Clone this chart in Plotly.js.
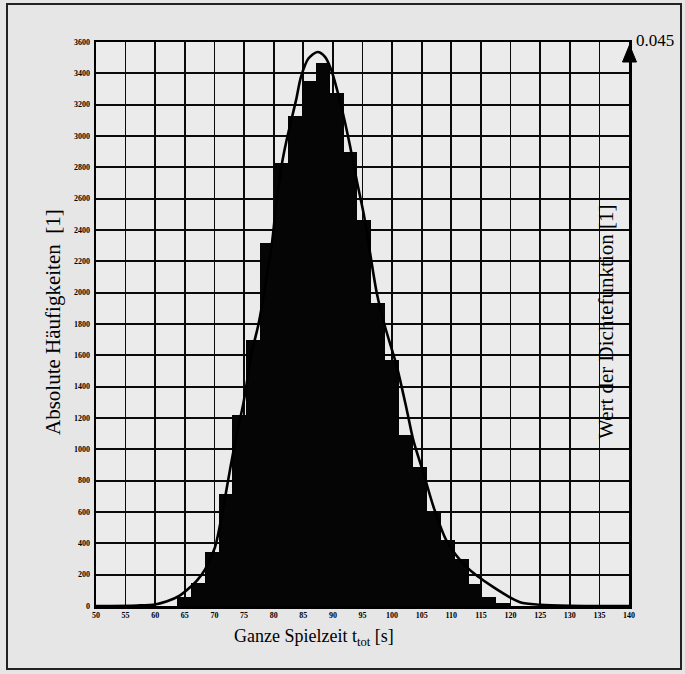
<!DOCTYPE html>
<html><head><meta charset="utf-8">
<script src="https://cdn.plot.ly/plotly-3.0.1.min.js"></script>
<style>html,body{margin:0;padding:0;background:#e6e6e6}#chart{width:685px;height:674px}</style>
</head><body><div id="chart"></div>
<script>
// Histogram bins (centres, s) and absolute counts
const binCenters = [64.83, 67.17, 69.52, 71.86, 74.21, 76.55, 78.90, 81.24, 83.59, 85.93, 88.28, 90.62, 92.97, 95.31, 97.66, 100.00, 102.35, 104.69, 107.04, 109.38, 111.73, 114.07, 116.42, 118.76];
const binCounts  = [60, 144, 344, 713, 1222, 1697, 2317, 2828, 3130, 3348, 3469, 3274, 2900, 2464, 1932, 1570, 1090, 888, 600, 420, 302, 140, 60, 20];
// Density curve (right axis)
const curveX = [50, 57, 60, 62, 64.2, 65.9, 67.0, 68.4, 70.1, 71.5, 72.6, 73.8, 74.9, 76.3, 77.4, 78.0, 78.9, 79.7, 80.4, 81.4, 82.2, 83.8, 84.6, 85.9, 87.4, 88.7, 89.7, 90.7, 91.8, 92.9, 94.0, 95.2, 96.3, 97.4, 98.8, 100.8, 102.5, 103.6, 105.3, 107.0, 109.2, 112.6, 117.1, 121.6, 125, 130, 140];
const curveDensity = [0, 0.00004, 0.000125, 0.000375, 0.00085, 0.0015, 0.002, 0.0029, 0.0047, 0.0079, 0.0108, 0.0138, 0.0162, 0.0202, 0.0224, 0.0239, 0.0265, 0.0289, 0.0319, 0.0353, 0.0372, 0.0404, 0.0422, 0.0437, 0.0442, 0.0438, 0.0428, 0.0412, 0.0391, 0.0367, 0.034, 0.0313, 0.0281, 0.025, 0.0223, 0.0191, 0.0156, 0.0132, 0.0106, 0.0079, 0.0052, 0.0031, 0.0015, 0.0003, 0.0001, 0.00002, 0];
const binWidth = 2.345;
const yLeftTitle = 'Absolute Häufigkeiten\u00a0 [1]';
const yRightTitle = 'Wert der Dichtefunktion [1]';
const xTitle = 'Ganze Spielzeit t<sub>tot</sub> [s]';
const rightTopLabel = '0.045';

const W = 685, H = 674;
const M = {l: 96, r: 56, t: 42, b: 68};
const PW = W - M.l - M.r, PH = H - M.t - M.b;
const px = x => (x - M.l) / PW;
const py = y => (H - M.b - y) / PH;
const serif = 'Liberation Serif, DejaVu Serif, serif';

const traces = [
  {type: 'bar', x: binCenters, y: binCounts, width: binWidth,
   marker: {color: '#050505', line: {width: 0}}, xaxis: 'x', yaxis: 'y', hoverinfo: 'skip'},
  {type: 'scatter', mode: 'lines', x: curveX, y: curveDensity, yaxis: 'y2',
   line: {color: '#000', width: 2.6, shape: 'spline', smoothing: 0.8}, hoverinfo: 'skip'}
];

const tickFont = {family: serif, size: 8, color: '#000', weight: 'bold'};
const layout = {
  width: W, height: H, margin: M, showlegend: false,
  paper_bgcolor: '#e6e6e6', plot_bgcolor: '#ebebeb', bargap: 0,
  xaxis: {range: [50, 140], tick0: 50, dtick: 5, showgrid: true, gridcolor: '#0a0a0a', gridwidth: 1.7,
          zeroline: false, showline: true, linecolor: '#000', linewidth: 2.5, mirror: true,
          ticks: '', tickfont: tickFont, ticklabelstandoff: 0},
  yaxis: {range: [0, 3600], tick0: 0, dtick: 200, showgrid: true, gridcolor: '#0a0a0a', gridwidth: 1.7,
          zeroline: false, showline: true, linecolor: '#000', linewidth: 2.5,
          ticks: '', tickfont: tickFont, ticklabelstandoff: 2},
  yaxis2: {range: [0, 0.045], overlaying: 'y', side: 'right', showgrid: false, zeroline: false,
           showline: true, linecolor: '#000', linewidth: 3, showticklabels: false, ticks: ''},
  annotations: [
    {xref: 'paper', yref: 'paper', x: px(53), y: py(322), text: yLeftTitle, textangle: -90, showarrow: false,
     font: {family: serif, size: 21, color: '#000'}, xanchor: 'center', yanchor: 'middle'},
    {xref: 'paper', yref: 'paper', x: px(606), y: py(322), text: yRightTitle, textangle: -90, showarrow: false,
     font: {family: serif, size: 21, color: '#000'}, xanchor: 'center', yanchor: 'middle'},
    {xref: 'paper', yref: 'paper', x: px(314), y: py(637), text: xTitle, showarrow: false,
     font: {family: serif, size: 18, color: '#000'}, xanchor: 'center', yanchor: 'middle'},
    {xref: 'paper', yref: 'paper', x: px(634), y: py(40), text: rightTopLabel, showarrow: false,
     font: {family: serif, size: 17, color: '#000'}, xanchor: 'left', yanchor: 'middle'}
  ],
  shapes: [
    {type: 'path', xref: 'paper', yref: 'paper', xsizemode: 'pixel', ysizemode: 'pixel', xanchor: 1, yanchor: 1,
     path: 'M 0.5 -3 L -6.5 -20 L 7.5 -20 Z', fillcolor: '#000', line: {color: '#000', width: 1}},
    {type: 'rect', xref: 'paper', yref: 'paper', x0: px(7), x1: px(681), y0: py(669), y1: py(4),
     line: {color: '#222', width: 2}, fillcolor: 'rgba(0,0,0,0)', layer: 'below'}
  ]
};
Plotly.newPlot('chart', traces, layout, {staticPlot: true, displayModeBar: false});
</script></body></html>
